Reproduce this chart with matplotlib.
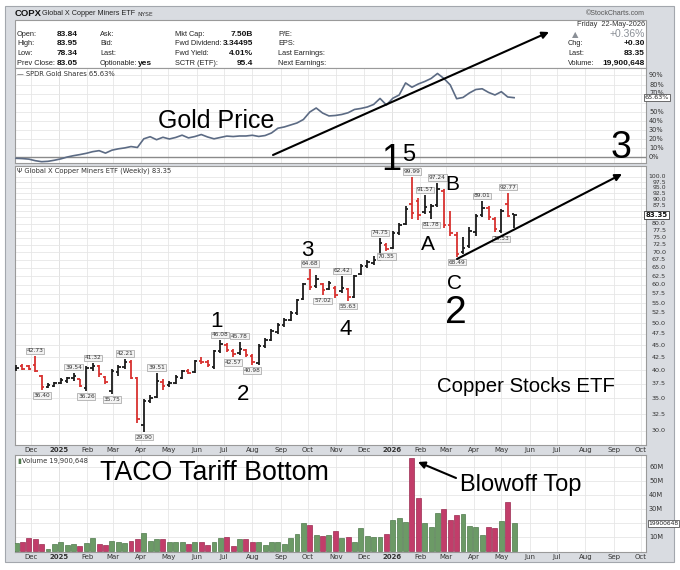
import numpy as np
import pandas as pd
import matplotlib
matplotlib.use("Agg")
import matplotlib.pyplot as plt
import matplotlib.dates as mdates
import matplotlib.ticker as mticker
from matplotlib.collections import LineCollection
from matplotlib.patches import Rectangle

# ---------------- data (weekly bars, COPX) ----------------
first_week = "2024-11-18"
opens = [40.2, 40.9, 40.8, 41.0, 38.9, 36.9, 37.2, 37.7, 38.0, 38.6,
         38.3, 36.8, 40.4, 40.9, 38.8, 36.2, 39.6, 40.6, 41.5, 38.5,
         30.8, 34.6, 35.2, 37.8, 37.3, 37.7, 38.6, 39.9, 39.6, 41.8,
         41.5, 40.6, 43.8, 45.0, 43.8, 43.4, 44.0, 42.8, 41.4, 44.8,
         46.2, 48.0, 49.5, 50.8, 52.4, 56.0, 61.5, 59.5, 60.2, 58.8,
         59.0, 58.3, 58.8, 56.5, 63.0, 65.5, 66.5, 67.5, 72.5, 71.5,
         76.8, 80.0, 88.0, 89.0, 84.5, 84.5, 87.5, 93.5, 79.8, 76.0,
         70.0, 72.0, 77.0, 83.5, 86.5, 82.0, 77.5, 88.0, 83.84]
highs = [41.1, 41.2, 41.0, 42.73, 39.2, 37.6, 37.9, 38.5, 38.8, 39.54,
         38.4, 40.8, 41.32, 41.1, 39.0, 40.2, 41.0, 42.21, 41.9, 38.7,
         34.9, 35.5, 39.51, 38.3, 38.0, 39.1, 40.1, 40.3, 42.0, 42.5,
         42.0, 44.1, 46.08, 45.5, 44.3, 45.78, 44.3, 43.2, 45.2, 46.6,
         48.6, 50.0, 51.3, 53.0, 56.0, 60.5, 64.68, 62.9, 60.6, 61.2,
         59.6, 62.42, 59.1, 62.9, 66.2, 67.5, 68.6, 74.75, 73.0, 77.5,
         80.5, 87.0, 99.99, 90.4, 91.57, 88.0, 97.24, 94.6, 85.0, 77.0,
         75.3, 79.0, 84.0, 89.01, 87.0, 82.8, 86.0, 92.77, 83.95]
lows = [39.9, 40.0, 40.0, 39.7, 36.40, 36.7, 36.9, 37.5, 37.6, 38.1,
        37.0, 36.26, 39.8, 38.8, 37.4, 35.75, 39.0, 40.3, 38.3, 31.2,
        29.90, 34.2, 35.0, 36.4, 37.0, 37.5, 38.3, 39.3, 39.4, 41.2,
        40.6, 40.2, 43.4, 43.6, 42.57, 43.0, 42.5, 40.98, 41.0, 44.4,
        45.9, 47.6, 49.0, 50.5, 52.0, 55.8, 58.6, 59.1, 57.02, 58.4,
        56.3, 57.8, 55.63, 56.3, 62.8, 65.0, 65.8, 67.0, 70.35, 71.0,
        76.0, 79.5, 81.8, 81.5, 84.0, 81.78, 86.8, 78.5, 75.5, 68.49,
        69.5, 71.5, 75.5, 82.5, 81.5, 77.0, 76.53, 82.5, 78.34]
closes = [40.4, 40.3, 40.2, 39.9, 36.9, 37.3, 37.6, 38.2, 38.6, 38.9,
          37.2, 40.5, 40.9, 39.3, 37.8, 39.8, 40.6, 41.6, 38.6, 31.8,
          34.6, 35.1, 38.0, 37.2, 37.6, 38.8, 39.8, 39.5, 41.7, 41.5,
          41.0, 43.8, 45.2, 44.0, 43.2, 44.2, 42.9, 41.5, 44.9, 46.2,
          48.2, 49.6, 50.8, 52.5, 55.8, 60.1, 59.3, 61.5, 58.6, 60.5,
          57.2, 59.0, 56.5, 62.5, 65.6, 66.8, 67.5, 73.0, 71.0, 76.5,
          79.5, 86.0, 84.3, 83.4, 86.8, 87.3, 94.5, 79.5, 76.5, 69.5,
          71.3, 77.5, 83.0, 86.5, 82.5, 78.0, 85.0, 83.05, 83.35]
volume_millions = [6.0, 6.5, 9.6, 9.1, 5.0, 1.7, 5.5, 6.7, 4.8, 5.5,
                   4.1, 5.8, 9.4, 5.5, 4.6, 7.7, 6.5, 6.2, 7.7, 8.9,
                   12.9, 7.2, 8.9, 8.9, 7.0, 7.0, 7.0, 5.3, 7.0, 7.0,
                   4.8, 7.0, 9.4, 10.1, 4.1, 9.1, 9.1, 7.0, 7.0, 4.8,
                   6.4, 7.0, 5.0, 9.6, 12.3, 20.2, 18.7, 11.4, 11.2, 11.4,
                   14.3, 9.5, 10.4, 7.0, 16.5, 11.0, 10.3, 10.4, 12.4, 22.6,
                   23.6, 20.7, 66.6, 38.3, 20.0, 17.6, 27.1, 30.0, 22.4, 25.7,
                   26.4, 18.1, 17.1, 11.7, 17.1, 16.4, 21.7, 35.5, 19.9]
gold_pct = [-0.9, -1.2, -1.8, -3.5, -4.6, -4.2, -3.0, -1.5, 0.5, 2.0,
            3.2, 4.6, 6.4, 7.5, 4.8, 8.0, 9.5, 10.5, 12.0, 11.0,
            20.5, 22.8, 19.5, 22.2, 20.3, 22.0, 24.5, 21.5, 23.0, 25.2,
            22.5, 20.5, 22.0, 23.5, 23.0, 23.6, 23.6, 24.4, 23.1, 24.1,
            26.9, 32.1, 33.5, 35.7, 37.9, 41.7, 49.9, 54.3, 48.8, 45.6,
            46.1, 47.2, 49.1, 52.7, 53.8, 55.4, 58.2, 64.8, 57.6, 65.0,
            68.6, 81.8, 77.1, 80.7, 83.4, 86.7, 92.2, 86.7, 79.6, 64.5,
            65.9, 70.8, 74.6, 75.4, 71.4, 68.6, 72.2, 66.4, 65.63]
label_high_idx = [3, 9, 12, 17, 22, 32, 35, 46, 51, 57, 62, 64, 66, 73, 77]
label_low_idx = [4, 11, 15, 20, 34, 37, 48, 52, 58, 65, 69, 76]

price_ticks = np.arange(30.0, 100.01, 2.5)
gold_ticks = [0, 10, 20, 30, 40, 50, 60, 70, 80, 90]
vol_ticks = [10, 20, 30, 40, 50, 60]
last_close = 83.35
last_volume = "19900648"
gold_last = 65.63

col1_labels = ["Open:", "High:", "Low:", "Prev Close:"]
col1_values = ["83.84", "83.95", "78.34", "83.05"]
col2_labels = ["Ask:", "Bid:", "Last:", "Optionable:"]
col3_labels = ["Mkt Cap:", "Fwd Dividend:", "Fwd Yield:", "SCTR (ETF):"]
col3_values = ["7.50B", "3.34495", "4.01%", "95.4"]
col4_labels = ["P/E:", "EPS:", "Last Earnings:", "Next Earnings:"]
right_labels = ["Chg:", "Last:", "Volume:"]
right_values = ["+0.30", "83.35", "19,900,648"]

# ---------------- figure ----------------
W, H = 680, 570
fig = plt.figure(figsize=(W / 100, H / 100), dpi=100)
fig.patch.set_facecolor("white")
SANS = ["Liberation Sans", "DejaVu Sans"]
SMALL = ["DejaVu Sans"]
plt.rcParams["font.family"] = SANS


def rect(x0, y0, x1, y1):
    return [x0 / W, 1 - y1 / H, (x1 - x0) / W, (y1 - y0) / H]


bg = fig.add_axes([0, 0, 1, 1])
bg.set_xlim(0, W)
bg.set_ylim(H, 0)
bg.axis("off")
bg.add_patch(Rectangle((5, 6), 669, 556, fc="#d9dce1", ec="#a3a7ad", lw=0.8))
bg.add_patch(Rectangle((15, 20), 631, 48, fc="white", ec="#9a9a9a", lw=0.8))

PX0, PX1 = 15, 646
ax_g = fig.add_axes(rect(PX0, 68, PX1, 163))
ax_p = fig.add_axes(rect(PX0, 166, PX1, 445))
ax_v = fig.add_axes(rect(PX0, 455, PX1, 552))

n = len(closes)
dates = pd.date_range(first_week, periods=n, freq="7D") - pd.Timedelta(days=3)
bx = mdates.date2num(dates.to_pydatetime())
base = mdates.date2num(pd.Timestamp("2025-01-01").to_pydatetime())
xlim = (base - 48.2, base + 643.6)
months = pd.date_range("2024-12-01", "2026-10-01", freq="MS")
mx = mdates.date2num(months.to_pydatetime())
mlabels = [str(d.year) if d.month == 1 else d.strftime("%b") for d in months]
years_x = [m for m, d in zip(mx, months) if d.month == 1]

up = [True] + [closes[i] >= closes[i - 1] for i in range(1, n)]

for ax in (ax_g, ax_p, ax_v):
    ax.set_xlim(*xlim)
    ax.set_facecolor("white")
    for s in ax.spines.values():
        s.set_color("#9a9a9a")
        s.set_linewidth(0.8)
    ax.set_xticks(mx)
    ax.grid(True, axis="both", color="#e6e6e6", lw=0.6)
    ax.set_axisbelow(True)
    for yx in years_x:
        ax.axvline(yx, color="#cfcfcf", lw=0.7, zorder=0.5)
    ax.tick_params(axis="both", length=0)
    ax.tick_params(axis="y", labelleft=False, labelright=False)

# gold panel
ax_g.set_ylim(-6.04, 98.2)
ax_g.set_yticks(gold_ticks)
ax_g.set_xticklabels([])
ax_g.axhline(0, color="#8a8a8a", lw=1.0, zorder=1)
ax_g.plot(bx, gold_pct, color="#5c6b84", lw=1.2, zorder=3)
trg = ax_g.get_yaxis_transform()
for v in gold_ticks:
    if 0 < gold_last - v < 6:
        continue  # hidden behind the last-value box
    ax_g.text(1 + 3 / 631, v + (1.2 if v == 70 else 0), f"{v}%", transform=trg, ha="left",
              va="center", fontsize=4.8, color="#333", family=SMALL, clip_on=False)
ax_g.text(1 + 11 / 631, gold_last, f"{gold_last:.2f}%", transform=trg, ha="center",
          va="center", fontsize=4.6, color="#222", family=SMALL, clip_on=False, zorder=6,
          bbox=dict(boxstyle="square,pad=0.15", fc="white", ec="#555", lw=0.6))

# price panel
ax_p.set_yscale("log")
ax_p.set_ylim(28.07, 105.3)
ax_p.set_yticks(price_ticks)
ax_p.yaxis.set_minor_locator(mticker.NullLocator())
ax_p.tick_params(axis="y", which="both", length=0, labelleft=False, labelright=False)
tick = 2.7
segs, cols = [], []
for i in range(n):
    x = bx[i]
    c = "#1b1b1b" if up[i] else "#d8322f"
    segs += [[(x, lows[i]), (x, highs[i])],
             [(x - tick, opens[i]), (x, opens[i])],
             [(x, closes[i]), (x + tick, closes[i])]]
    cols += [c] * 3
ax_p.add_collection(LineCollection(segs, colors=cols, linewidths=1.3, capstyle="butt", zorder=3))
ax_p.set_xlim(*xlim)
ax_p.set_ylim(28.07, 105.3)
ax_p.set_xticklabels(mlabels, fontsize=5, color="#333", family=SMALL)
for lab, d in zip(ax_p.get_xticklabels(), months):
    if d.month == 1:
        lab.set_fontweight("bold")
ax_p.tick_params(axis="x", pad=1.5)
trp = ax_p.get_yaxis_transform()
for v in price_ticks:
    if abs(v - last_close) < 2.0:
        continue  # hidden behind the last-price box
    ax_p.text(1 + 20 / 631, v, f"{v:.1f}", transform=trp, ha="right", va="center",
              fontsize=4.4 if v > 80 else 4.6, color="#333", family=SMALL, clip_on=False)
ax_p.text(1 + 10.5 / 631, last_close, f"{last_close:.2f}", transform=trp, ha="center",
          va="center", fontsize=5, fontweight="bold", color="#111", family=SMALL,
          clip_on=False, zorder=6,
          bbox=dict(boxstyle="square,pad=0.15", fc="white", ec="#333", lw=0.6))
box = dict(boxstyle="square,pad=0.12", fc="#f3f3f3", ec="#a0a0a0", lw=0.5)
for i in label_high_idx:
    ax_p.annotate(f"{highs[i]:.2f}", xy=(bx[i], highs[i]), xytext=(0, 3),
                  textcoords="offset pixels", ha="center", va="bottom", fontsize=4.2,
                  color="#333", family=SMALL, bbox=box, zorder=4)
for i in label_low_idx:
    ax_p.annotate(f"{lows[i]:.2f}", xy=(bx[i], lows[i]), xytext=(0, -3),
                  textcoords="offset pixels", ha="center", va="top", fontsize=4.2,
                  color="#333", family=SMALL, bbox=box, zorder=4)

# volume panel
ax_v.set_ylim(-0.5, 68.8)
ax_v.set_yticks(vol_ticks)
vcol = ["#6c9a66" if u else "#c23d6a" for u in up]
vedge = ["#4f7a4c" if u else "#9a2b50" for u in up]
ax_v.bar(bx, volume_millions, width=5.4, color=vcol, edgecolor=vedge, linewidth=0.5, zorder=3)
ax_v.set_xticklabels(mlabels, fontsize=5, color="#333", family=SMALL)
for lab, d in zip(ax_v.get_xticklabels(), months):
    if d.month == 1:
        lab.set_fontweight("bold")
ax_v.tick_params(axis="x", pad=1.5)
trv = ax_v.get_yaxis_transform()
last_vol_m = volume_millions[-1]
for v in vol_ticks:
    if abs(v - last_vol_m) < 4:
        continue  # hidden behind the last-volume box
    ax_v.text(1 + 3 / 631, v, f"{v}M", transform=trv, ha="left", va="center",
              fontsize=4.8, color="#333", family=SMALL, clip_on=False)
ax_v.text(1 + 2.5 / 631, last_vol_m, last_volume, transform=trv, ha="left", va="center",
          fontsize=4.3, color="#222", family=SMALL, clip_on=False, zorder=6,
          bbox=dict(boxstyle="square,pad=0.12", fc="white", ec="#555", lw=0.6))

# ---------------- overlay: header, labels, annotations ----------------
ov = fig.add_axes([0, 0, 1, 1])
ov.set_xlim(0, W)
ov.set_ylim(H, 0)
ov.axis("off")

ov.text(15, 13.5, "COPX", fontsize=6.8, fontweight="bold", va="center", color="#111")
ov.text(42, 13.8, "Global X Copper Miners ETF", fontsize=5.2, va="center", color="#222")
ov.text(137, 14, "NYSE", fontsize=4.3, va="center", color="#333", family=SMALL)
ov.text(645, 13.8, "\u00a9StockCharts.com", fontsize=5, va="center", ha="right", color="#555")

rows_y = [34.3, 43.6, 53.3, 63.2]
for y, l1, v1, l2, l3, v3, l4 in zip(rows_y, col1_labels, col1_values, col2_labels,
                                      col3_labels, col3_values, col4_labels):
    ov.text(17, y, l1, fontsize=5.3, va="center", color="#222")
    ov.text(78, y, v1, fontsize=6, va="center", ha="right", fontweight="bold", color="#111")
    ov.text(100, y, l2, fontsize=5.3, va="center", color="#222")
    ov.text(175, y, l3, fontsize=5.3, va="center", color="#222")
    ov.text(253, y, v3, fontsize=6, va="center", ha="right", fontweight="bold", color="#111")
    ov.text(278, y, l4, fontsize=5.3, va="center", color="#222")
ov.text(138, rows_y[3], "yes", fontsize=6, va="center", fontweight="bold", color="#111")
ov.text(645, 24, "Friday  22-May-2026", fontsize=5.3, va="center", ha="right", color="#333")
ov.text(575, 34.3, "\u25b2", fontsize=6, va="center", ha="center", color="#8a8f96", family=SMALL)
ov.text(645, 34.3, "+0.36%", fontsize=7.5, va="center", ha="right", color="#8a8f96")
for y, l, v in zip(rows_y[1:], right_labels, right_values):
    ov.text(568, y, l, fontsize=5.3, va="center", color="#222")
    ov.text(645, y, v, fontsize=6, va="center", ha="right", fontweight="bold", color="#111")

ov.text(17, 73.5, "\u2014 SPDR Gold Shares 65.63%", fontsize=4.9, va="center", color="#333",
        family=SMALL)
ov.text(17, 171, "\u03a8 Global X Copper Miners ETF (Weekly) 83.35", fontsize=4.9,
        va="center", color="#333", family=SMALL)
ov.text(17, 460.5, "\u25ae", fontsize=5, va="center", color="#4f7a4c", family=SMALL)
ov.text(22, 460.5, "Volume 19,900,648", fontsize=4.9, va="center", color="#333", family=SMALL)

ann = dict(color="black", family=SANS, ha="center", va="baseline")
ov.text(216, 128, "Gold Price", fontsize=18, **ann)
ov.text(391, 170, "1", fontsize=26, **ann)
ov.text(409, 161, "5", fontsize=17, **ann)
ov.text(621, 158, "3", fontsize=27, **ann)
ov.text(452, 190, "B", fontsize=15, **ann)
ov.text(428, 250, "A", fontsize=15, **ann)
ov.text(455, 289, "C", fontsize=15, **ann)
ov.text(456, 323, "2", fontsize=28, **ann)
ov.text(217, 327, "1", fontsize=16, **ann)
ov.text(243, 400, "2", fontsize=16, **ann)
ov.text(307.5, 256, "3", fontsize=16, **ann)
ov.text(346, 335, "4", fontsize=16, **ann)
ov.text(526, 392, "Copper Stocks ETF", fontsize=14.7, **ann)
ov.text(214, 480, "TACO Tariff Bottom", fontsize=19.3, **ann)
ov.text(521, 491, "Blowoff Top", fontsize=17, **ann)

arrow = dict(arrowstyle="-|>", color="black", lw=1.5, mutation_scale=10, shrinkA=0, shrinkB=0)
ov.annotate("", xy=(549, 32), xytext=(273, 155), arrowprops=arrow)
ov.annotate("", xy=(622, 174), xytext=(457, 259), arrowprops=arrow)
ov.annotate("", xy=(418, 462), xytext=(456, 478), arrowprops=arrow)

fig.savefig("out.png", dpi=100)
